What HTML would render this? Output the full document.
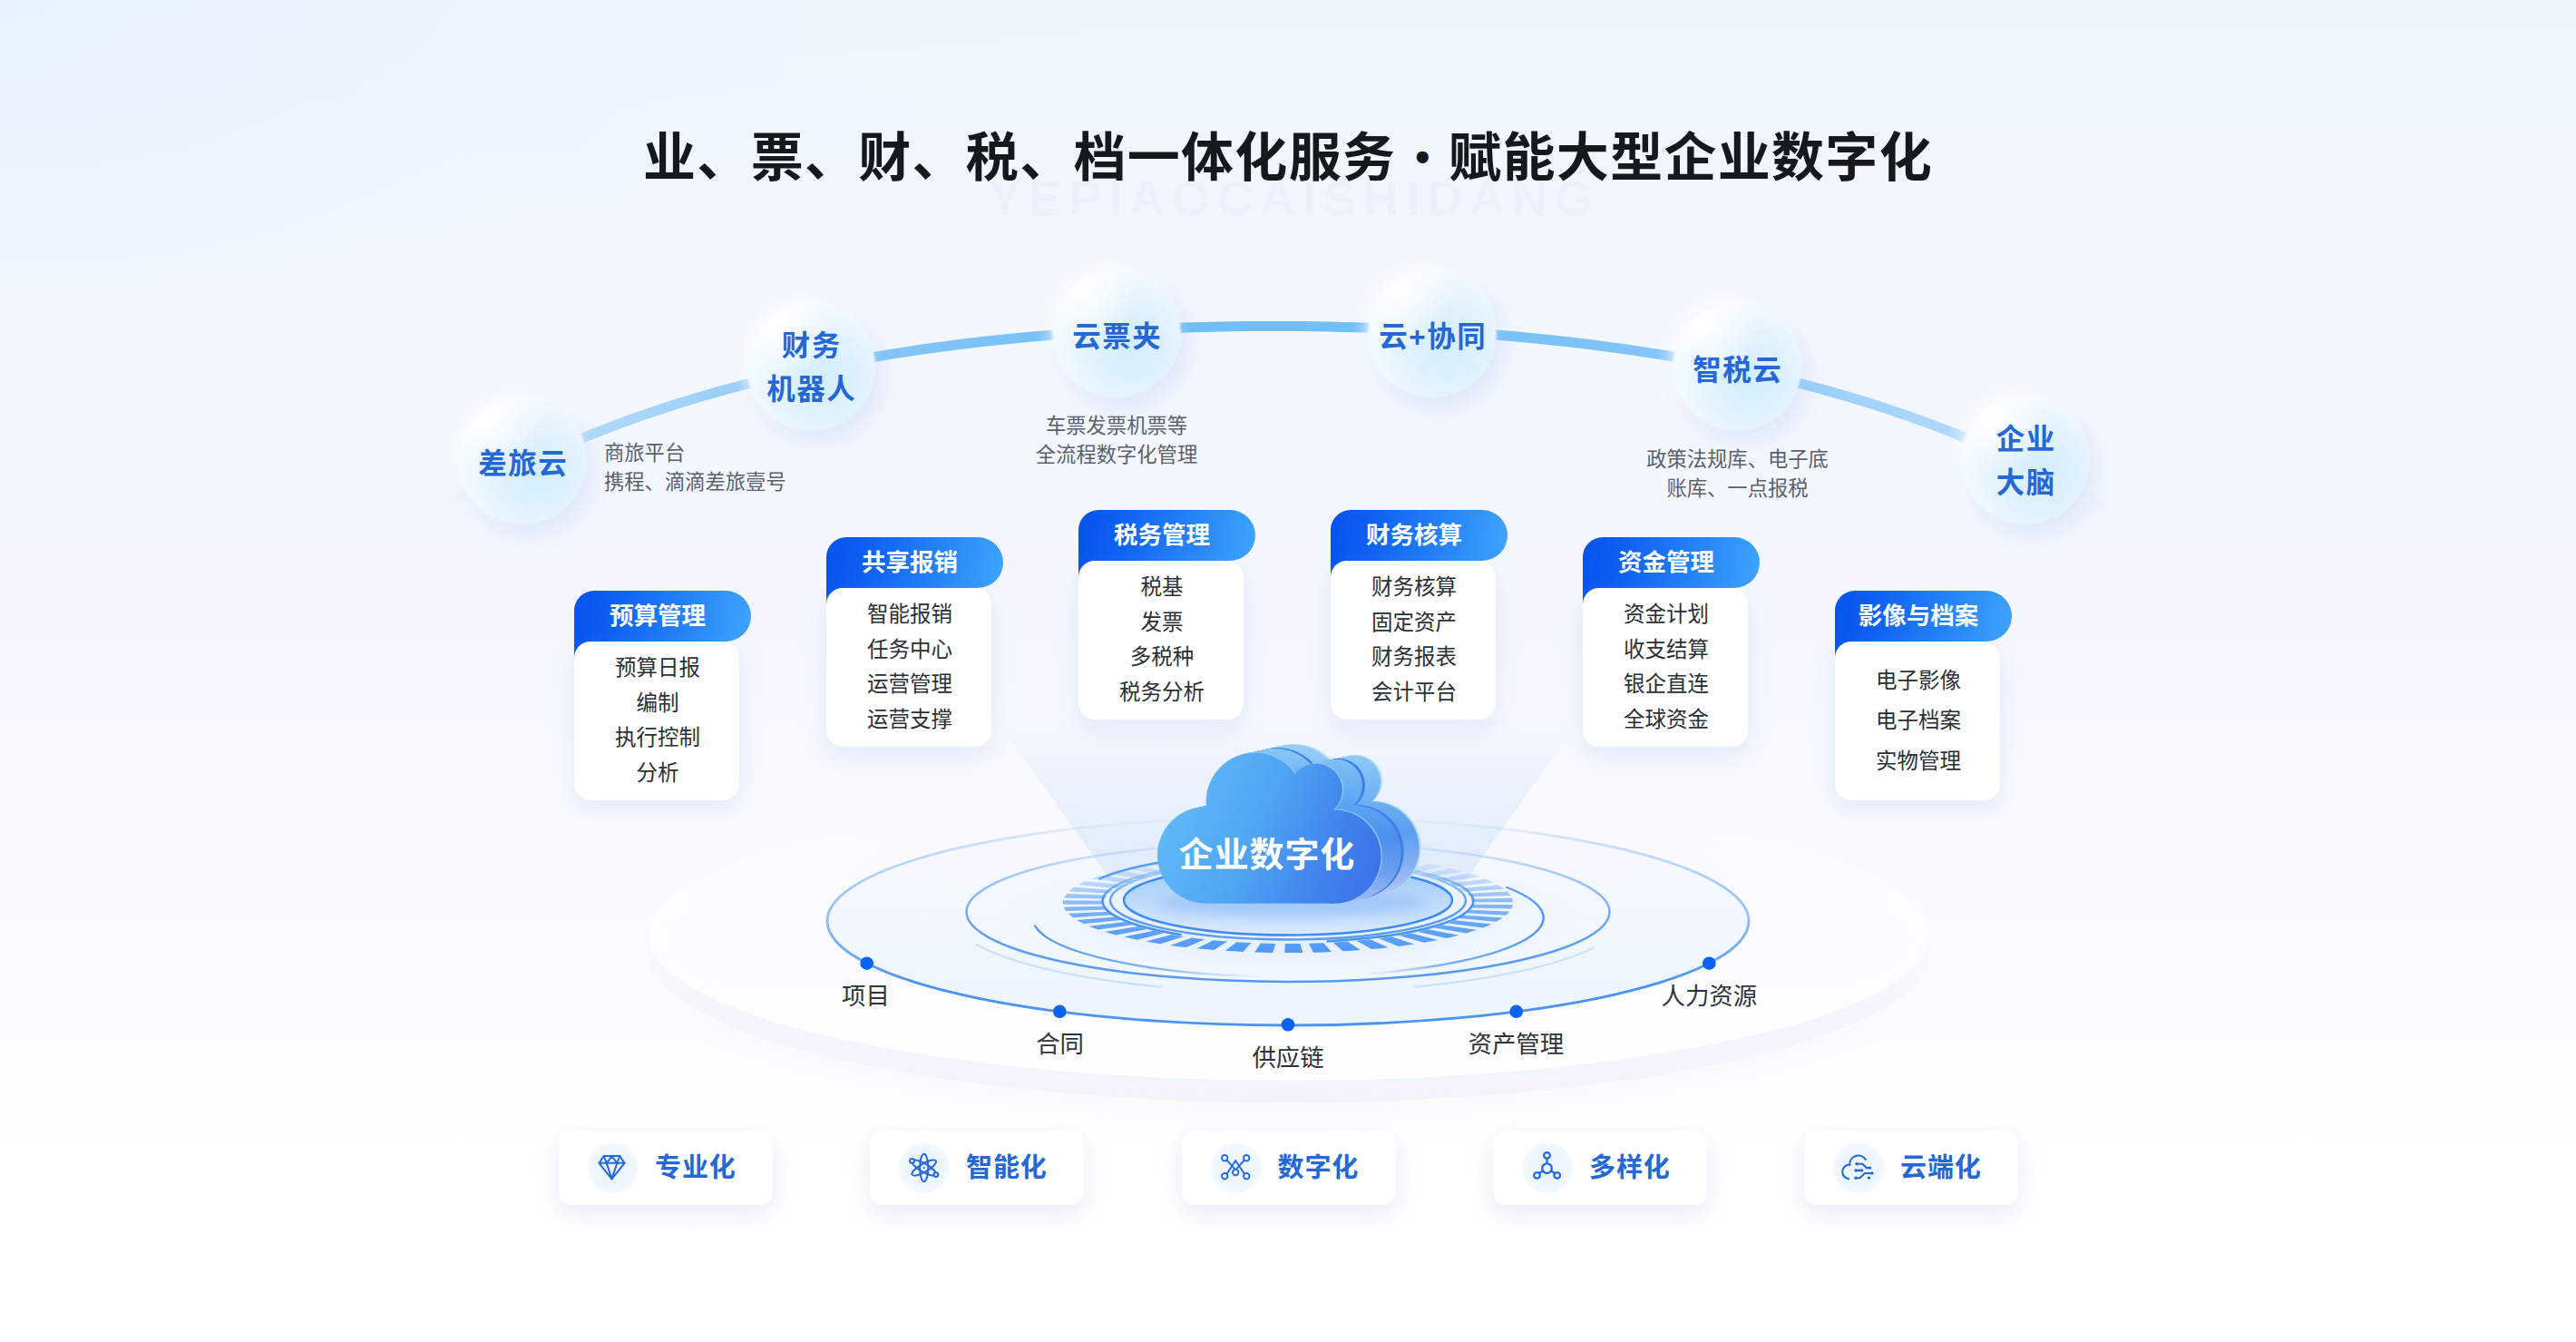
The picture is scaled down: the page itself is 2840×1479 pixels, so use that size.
<!DOCTYPE html>
<html lang="zh-CN">
<head>
<meta charset="utf-8">
<title>业、票、财、税、档一体化服务</title>
<style>
*{box-sizing:border-box;margin:0;padding:0}
html,body{width:2840px;height:1479px;overflow:hidden;background:#fdfdff}
body{font-family:"Liberation Sans","Noto Sans CJK SC",sans-serif;color:#2b2f36}
#stage{position:relative;width:2840px;height:1479px;overflow:hidden;
 background:
  radial-gradient(ellipse 1200px 600px at 0% 0%,rgba(230,241,253,.8) 0%,rgba(236,244,254,.4) 55%,rgba(242,247,254,0) 100%),
  linear-gradient(180deg,#eef5fd 0px,#f0f6fe 120px,#f3f7fe 300px,#f4f7fe 700px,#f8faff 900px,#fcfcff 1100px,#fefeff 1260px,#ffffff 1479px);}
.abs{position:absolute}
/* title */
.wm{position:absolute;left:0;width:2840px;top:190px;line-height:56px;text-align:center;font-size:54px;font-weight:700;letter-spacing:8px;padding-left:14px;color:#e9edf9;opacity:.5;font-family:"Liberation Sans",sans-serif}
h1.title{position:absolute;left:0;width:2840px;top:130px;height:88px;line-height:88px;text-align:center;font-size:58px;font-weight:700;color:#15181d;white-space:nowrap;letter-spacing:1.3px}
h1.title .dot{display:inline-block;width:58px;text-align:center;font-size:46px;letter-spacing:0;vertical-align:top;position:relative;top:-1px;font-family:"Liberation Sans",sans-serif}
/* bubbles */
.bubble{position:absolute;width:140px;height:140px;border-radius:50%;
 background:radial-gradient(circle 62px at 24% 16%,rgba(255,255,255,.92) 0%,rgba(255,255,255,0) 100%),radial-gradient(circle 86px at 62% 60%,#d5edfc 0%,#ddf1fd 42%,#e9f6fe 74%,#f3fbff 100%);
 box-shadow:8px 12px 26px rgba(150,185,240,.24),0 0 0 1.5px rgba(255,255,255,.55),-5px -5px 16px rgba(255,255,255,.8);
 display:flex;align-items:center;justify-content:center;text-align:center;padding-top:9px;padding-left:1.6px;
 font-size:31.5px;font-weight:700;color:#2568d5;line-height:47.4px;white-space:nowrap;letter-spacing:1.6px}
.bubble.two{padding-top:3px}
.note{position:absolute;font-size:22.3px;line-height:32.4px;color:#5a616d;white-space:nowrap}
.note.c{text-align:center;transform:translateX(-50%)}
/* cards */
.card{position:absolute;width:184px}
.card .hd{position:relative;width:195px;height:56px;color:#fff;font-size:26.5px;font-weight:700;line-height:57px;text-align:center;padding-right:11px;white-space:nowrap}
.card .hd:before{content:"";position:absolute;left:0;top:0;width:195px;height:84px;background:linear-gradient(97deg,#0553ef 0%,#0d60f2 22%,#2280f7 58%,#3fa6fc 100%);clip-path:path("M0 22 A22 22 0 0 1 22 0 H167 A28 28 0 0 1 167 56 H24 V84 H0 Z");filter:none}
.card .hd span{position:relative;z-index:2}
.card .bd{position:relative;z-index:3;width:181.5px;padding-left:2.5px;height:175px;border-radius:18px;background:#fff;box-shadow:0 10px 26px rgba(150,180,235,.21);text-align:center;font-size:23.5px;line-height:38.6px;padding-top:10px;color:#2b2f36}
.card .bd.three{line-height:44.8px;padding-top:20.5px}
/* ring labels */
.rl{position:absolute;font-size:26.4px;line-height:34px;margin-top:1px;color:#2f333a;white-space:nowrap;transform:translate(-50%,-50%)}
/* tags */
.tag{position:absolute;top:1246px;width:236px;height:82px;border-radius:14px;background:#fff;box-shadow:0 10px 24px rgba(170,190,235,.26)}
.tag .ic{position:absolute;left:32px;top:13px;width:56px;height:56px;border-radius:50%;background:radial-gradient(circle at 50% 50%,#ebf4fe 0%,#eef6fe 55%,rgba(244,249,255,.6) 80%,rgba(255,255,255,0) 100%)}
.tag .ic svg{position:absolute;left:1px;top:1px;width:54px;height:54px}
.tag .tx{position:absolute;left:106px;top:0;height:82px;line-height:83px;font-size:29px;font-weight:700;color:#2468d6;white-space:nowrap;letter-spacing:.9px}
svg{display:block}
</style>
</head>
<body>
<div id="stage">
<!--BG-->
<!--PLATFORM_START-->
<svg class="abs" style="left:0;top:0" width="2840" height="1479" viewBox="0 0 2840 1479">
<defs>
<filter id="bl20" x="-20%" y="-50%" width="140%" height="200%"><feGaussianBlur stdDeviation="16"/></filter>
<filter id="bl6" x="-20%" y="-50%" width="140%" height="200%"><feGaussianBlur stdDeviation="6"/></filter>
<linearGradient id="discTop" x1="0" y1="870" x2="0" y2="1191" gradientUnits="userSpaceOnUse">
 <stop offset="0" stop-color="#fdfdff" stop-opacity="0"/><stop offset=".35" stop-color="#fdfdff" stop-opacity=".75"/><stop offset="1" stop-color="#fefeff" stop-opacity="1"/></linearGradient>
<linearGradient id="discSide" x1="0" y1="1000" x2="0" y2="1216" gradientUnits="userSpaceOnUse">
 <stop offset="0" stop-color="#f3f5fd" stop-opacity="0"/><stop offset=".5" stop-color="#f3f5fd" stop-opacity=".7"/><stop offset="1" stop-color="#f1f4fc" stop-opacity="1"/></linearGradient>
<linearGradient id="ringFade" x1="0" y1="900" x2="0" y2="1130" gradientUnits="userSpaceOnUse">
 <stop offset="0" stop-color="#fff" stop-opacity="0"/><stop offset=".12" stop-color="#fff" stop-opacity=".25"/><stop offset=".5" stop-color="#fff" stop-opacity=".6"/><stop offset=".8" stop-color="#fff" stop-opacity="1"/><stop offset="1" stop-color="#fff" stop-opacity="1"/></linearGradient>
<mask id="mRing" maskUnits="userSpaceOnUse" x="800" y="850" width="1240" height="320"><rect x="800" y="850" width="1240" height="320" fill="url(#ringFade)"/></mask>
<linearGradient id="ring2Fade" x1="0" y1="925" x2="0" y2="1085" gradientUnits="userSpaceOnUse">
 <stop offset="0" stop-color="#fff" stop-opacity="0"/><stop offset=".2" stop-color="#fff" stop-opacity=".45"/><stop offset=".6" stop-color="#fff" stop-opacity=".9"/><stop offset="1" stop-color="#fff" stop-opacity="1"/></linearGradient>
<mask id="mRing2" maskUnits="userSpaceOnUse" x="1000" y="900" width="840" height="220"><rect x="1000" y="900" width="840" height="220" fill="url(#ring2Fade)"/></mask>
<linearGradient id="dashFade" x1="0" y1="940" x2="0" y2="1052" gradientUnits="userSpaceOnUse">
 <stop offset="0" stop-color="#fff" stop-opacity="0"/><stop offset=".28" stop-color="#fff" stop-opacity=".3"/><stop offset=".48" stop-color="#fff" stop-opacity=".62"/><stop offset=".7" stop-color="#fff" stop-opacity=".85"/><stop offset="1" stop-color="#fff" stop-opacity="1"/></linearGradient>
<linearGradient id="thinFade" x1="0" y1="945" x2="0" y2="1040" gradientUnits="userSpaceOnUse"><stop offset="0" stop-color="#fff" stop-opacity="0"/><stop offset=".3" stop-color="#fff" stop-opacity=".6"/><stop offset=".5" stop-color="#fff" stop-opacity="1"/><stop offset="1" stop-color="#fff" stop-opacity="1"/></linearGradient>
<mask id="mThin" maskUnits="userSpaceOnUse" x="1100" y="900" width="640" height="200"><rect x="1100" y="900" width="640" height="200" fill="url(#thinFade)"/></mask>
<mask id="mDash" maskUnits="userSpaceOnUse" x="1100" y="900" width="640" height="200"><rect x="1100" y="900" width="640" height="200" fill="url(#dashFade)"/></mask>
<linearGradient id="beam" x1="0" y1="790" x2="0" y2="985" gradientUnits="userSpaceOnUse">
 <stop offset="0" stop-color="#d6e4f9" stop-opacity="0"/><stop offset=".3" stop-color="#d6e4f9" stop-opacity=".28"/><stop offset=".7" stop-color="#d3e3f9" stop-opacity=".5"/><stop offset="1" stop-color="#cfe0f9" stop-opacity=".6"/></linearGradient>
<linearGradient id="innerFill" x1="0" y1="955" x2="0" y2="1032" gradientUnits="userSpaceOnUse">
 <stop offset="0" stop-color="#9fcbfa"/><stop offset=".5" stop-color="#bddbfc"/><stop offset="1" stop-color="#dcebfe"/></linearGradient>
<radialGradient id="glow" cx="1420" cy="1010" r="330" gradientUnits="userSpaceOnUse" gradientTransform="translate(0 790) scale(1 .218)">
 <stop offset="0" stop-color="#d5e8fd" stop-opacity=".9"/><stop offset=".6" stop-color="#e3effd" stop-opacity=".6"/><stop offset="1" stop-color="#eef5fe" stop-opacity="0"/></radialGradient>
<linearGradient id="cloudFront" x1="1290" y1="880" x2="1520" y2="975" gradientUnits="userSpaceOnUse">
 <stop offset="0" stop-color="#5fbaf7"/><stop offset=".4" stop-color="#4fa5f3"/><stop offset=".75" stop-color="#4083ec"/><stop offset="1" stop-color="#3b72e8"/></linearGradient>
</defs>
<ellipse cx="1421" cy="1066" rx="680" ry="158" fill="#e4eafa" opacity=".22" filter="url(#bl20)"/>
<ellipse cx="1421" cy="1050" rx="707" ry="165" fill="url(#discSide)"/>
<ellipse cx="1421" cy="1030" rx="707" ry="161" fill="url(#discTop)"/>
<ellipse cx="1420" cy="1015" rx="508" ry="115" fill="#e4f1fe" opacity=".62" mask="url(#mRing)"/>
<ellipse cx="1420" cy="1005" rx="354.5" ry="77" fill="#f3f8ff" opacity=".8" mask="url(#mRing2)"/>
<polygon points="1096,790 1744,790 1612,976 1233,982" fill="url(#beam)"/>
<ellipse cx="1420" cy="1010" rx="330" ry="72" fill="url(#glow)"/>
<ellipse cx="1420" cy="1015" rx="508" ry="115" fill="none" stroke="#4a93f1" stroke-width="2.8" mask="url(#mRing)"/>
<ellipse cx="1420" cy="1005" rx="354.5" ry="77" fill="none" stroke="#5598f3" stroke-width="2.5" mask="url(#mRing2)"/>
<defs><linearGradient id="arcL" x1="1140" y1="0" x2="1400" y2="0" gradientUnits="userSpaceOnUse"><stop offset="0" stop-color="#4f95f3"/><stop offset=".55" stop-color="#6aa6f5" stop-opacity=".8"/><stop offset="1" stop-color="#9cc3f7" stop-opacity="0"/></linearGradient><linearGradient id="arcR" x1="1702" y1="0" x2="1500" y2="0" gradientUnits="userSpaceOnUse"><stop offset="0" stop-color="#4f95f3"/><stop offset=".6" stop-color="#6aa6f5" stop-opacity=".8"/><stop offset="1" stop-color="#9cc3f7" stop-opacity="0"/></linearGradient></defs>
<path d="M1141.1 1020.5 A281.6 65 0 0 0 1395.5 1076.3" fill="none" stroke="url(#arcL)" stroke-width="2.4" stroke-linecap="round"/>
<path d="M1661.4 978.0 A281.6 65 0 0 1 1507.0 1073.3" fill="none" stroke="url(#arcR)" stroke-width="2.4" stroke-linecap="round"/>
<path d="M1075.1 1040.2 A372 86 0 0 0 1280.6 1087.7" fill="none" stroke="#9cc3f7" stroke-width="2" opacity=".45"/>
<path d="M1757.1 1044.3 A372 86 0 0 1 1559.4 1087.7" fill="none" stroke="#9cc3f7" stroke-width="2" opacity=".45"/>
<g mask="url(#mDash)"><g transform="translate(1420 995) scale(1 .2218)"><circle r="225.5" fill="none" stroke="#4f97f5" stroke-width="45" stroke-dasharray="18.4 11.76" transform="rotate(86.2)"/></g></g>
<path d="M1522.2 953.7 A204.5 45.4 0 0 1 1462.5 1037.4" fill="none" stroke="#4a93f3" stroke-width="2.5" mask="url(#mThin)"/>
<path d="M1317.8 953.7 A204.5 45.4 0 0 0 1302.7 1030.2" fill="none" stroke="#4a93f3" stroke-width="2.5" mask="url(#mThin)"/>
<ellipse cx="1420" cy="992.5" rx="196" ry="43" fill="none" stroke="#4a93f3" stroke-width="2.4" opacity=".9" mask="url(#mThin)"/>
<ellipse cx="1420" cy="992" rx="181" ry="38.5" fill="url(#innerFill)" stroke="#3d8af2" stroke-width="2.4"/>
<path d="M1211.5 968.9 A230 50 0 0 1 1288.1 949.0" fill="none" stroke="#5a9cf3" stroke-width="2.4"/>
<circle cx="955.7" cy="1061.7" r="7.3" fill="#0a62f0"/>
<circle cx="1168.3" cy="1114.8" r="7.3" fill="#0a62f0"/>
<circle cx="1420" cy="1129.3" r="7.3" fill="#0a62f0"/>
<circle cx="1671.7" cy="1114.8" r="7.3" fill="#0a62f0"/>
<circle cx="1884.3" cy="1061.7" r="7.3" fill="#0a62f0"/>
<defs>
<linearGradient id="side1" x1="0" y1="815" x2="0" y2="992" gradientUnits="userSpaceOnUse"><stop offset="0" stop-color="#8fccf9"/><stop offset=".3" stop-color="#66aff4"/><stop offset=".62" stop-color="#4b8fec"/><stop offset=".82" stop-color="#6b9fef"/><stop offset="1" stop-color="#a3b9f3"/></linearGradient>
<linearGradient id="side2" x1="0" y1="810" x2="0" y2="985" gradientUnits="userSpaceOnUse"><stop offset="0" stop-color="#a0d4fb"/><stop offset=".3" stop-color="#78bbf6"/><stop offset=".62" stop-color="#5c9df0"/><stop offset=".82" stop-color="#86b0f3"/><stop offset="1" stop-color="#b6c6f6"/></linearGradient>
<filter id="cs" x="-20%" y="-20%" width="140%" height="160%"><feGaussianBlur stdDeviation="7"/></filter>
</defs>
<ellipse cx="1425" cy="996" rx="150" ry="16" fill="#6ea6ee" opacity=".35" filter="url(#cs)"/>
<g fill="#b4dcfc"><circle cx="1373.0" cy="933.0" r="53"/><circle cx="1515.0" cy="934.5" r="51.6"/><rect x="1373.0" y="885.5" width="142" height="100.6"/><circle cx="1427.6" cy="874.2" r="54"/><circle cx="1495.0" cy="861.0" r="29"/></g>
<g fill="#b4dcfc"><circle cx="1372.0" cy="933.2" r="53"/><circle cx="1514.0" cy="934.7" r="51.6"/><rect x="1372.0" y="885.7" width="142" height="100.6"/><circle cx="1426.6" cy="874.4" r="54"/><circle cx="1494.0" cy="861.2" r="29"/></g>
<g fill="url(#side2)"><circle cx="1371.0" cy="933.4" r="53"/><circle cx="1513.0" cy="934.9" r="51.6"/><rect x="1371.0" y="885.9" width="142" height="100.6"/><circle cx="1425.6" cy="874.6" r="54"/><circle cx="1493.0" cy="861.4" r="29"/></g>
<g fill="url(#side2)"><circle cx="1370.0" cy="933.6" r="53"/><circle cx="1512.0" cy="935.1" r="51.6"/><rect x="1370.0" y="886.1" width="142" height="100.6"/><circle cx="1424.6" cy="874.8" r="54"/><circle cx="1492.0" cy="861.6" r="29"/></g>
<g fill="url(#side2)"><circle cx="1369.0" cy="933.9" r="53"/><circle cx="1511.0" cy="935.4" r="51.6"/><rect x="1369.0" y="886.4" width="142" height="100.6"/><circle cx="1423.6" cy="875.1" r="54"/><circle cx="1491.0" cy="861.9" r="29"/></g>
<g fill="url(#side2)"><circle cx="1368.0" cy="934.1" r="53"/><circle cx="1510.0" cy="935.6" r="51.6"/><rect x="1368.0" y="886.6" width="142" height="100.6"/><circle cx="1422.6" cy="875.3" r="54"/><circle cx="1490.0" cy="862.1" r="29"/></g>
<g fill="url(#side2)"><circle cx="1367.0" cy="934.3" r="53"/><circle cx="1509.0" cy="935.8" r="51.6"/><rect x="1367.0" y="886.8" width="142" height="100.6"/><circle cx="1421.6" cy="875.5" r="54"/><circle cx="1489.0" cy="862.3" r="29"/></g>
<g fill="url(#side2)"><circle cx="1366.0" cy="934.5" r="53"/><circle cx="1508.0" cy="936.0" r="51.6"/><rect x="1366.0" y="887.0" width="142" height="100.6"/><circle cx="1420.6" cy="875.7" r="54"/><circle cx="1488.0" cy="862.5" r="29"/></g>
<g fill="url(#side2)"><circle cx="1365.0" cy="934.7" r="53"/><circle cx="1507.0" cy="936.2" r="51.6"/><rect x="1365.0" y="887.2" width="142" height="100.6"/><circle cx="1419.6" cy="875.9" r="54"/><circle cx="1487.0" cy="862.7" r="29"/></g>
<g fill="url(#side2)"><circle cx="1364.0" cy="934.9" r="53"/><circle cx="1506.0" cy="936.4" r="51.6"/><rect x="1364.0" y="887.4" width="142" height="100.6"/><circle cx="1418.6" cy="876.1" r="54"/><circle cx="1486.0" cy="862.9" r="29"/></g>
<g fill="url(#side2)"><circle cx="1363.0" cy="935.2" r="53"/><circle cx="1505.0" cy="936.7" r="51.6"/><rect x="1363.0" y="887.7" width="142" height="100.6"/><circle cx="1417.6" cy="876.4" r="54"/><circle cx="1485.0" cy="863.2" r="29"/></g>
<g fill="url(#side2)"><circle cx="1362.0" cy="935.4" r="53"/><circle cx="1504.0" cy="936.9" r="51.6"/><rect x="1362.0" y="887.9" width="142" height="100.6"/><circle cx="1416.6" cy="876.6" r="54"/><circle cx="1484.0" cy="863.4" r="29"/></g>
<g fill="url(#side2)"><circle cx="1361.0" cy="935.6" r="53"/><circle cx="1503.0" cy="937.1" r="51.6"/><rect x="1361.0" y="888.1" width="142" height="100.6"/><circle cx="1415.6" cy="876.8" r="54"/><circle cx="1483.0" cy="863.6" r="29"/></g>
<g fill="url(#side2)"><circle cx="1360.0" cy="935.8" r="53"/><circle cx="1502.0" cy="937.3" r="51.6"/><rect x="1360.0" y="888.3" width="142" height="100.6"/><circle cx="1414.6" cy="877.0" r="54"/><circle cx="1482.0" cy="863.8" r="29"/></g>
<g fill="url(#side2)"><circle cx="1359.0" cy="936.0" r="53"/><circle cx="1501.0" cy="937.5" r="51.6"/><rect x="1359.0" y="888.5" width="142" height="100.6"/><circle cx="1413.6" cy="877.2" r="54"/><circle cx="1481.0" cy="864.0" r="29"/></g>
<g fill="url(#side2)"><circle cx="1358.0" cy="936.2" r="53"/><circle cx="1500.0" cy="937.7" r="51.6"/><rect x="1358.0" y="888.7" width="142" height="100.6"/><circle cx="1412.6" cy="877.4" r="54"/><circle cx="1480.0" cy="864.2" r="29"/></g>
<g fill="url(#side2)"><circle cx="1357.0" cy="936.5" r="53"/><circle cx="1499.0" cy="938.0" r="51.6"/><rect x="1357.0" y="889.0" width="142" height="100.6"/><circle cx="1411.6" cy="877.7" r="54"/><circle cx="1479.0" cy="864.5" r="29"/></g>
<g fill="url(#side2)"><circle cx="1356.0" cy="936.7" r="53"/><circle cx="1498.0" cy="938.2" r="51.6"/><rect x="1356.0" y="889.2" width="142" height="100.6"/><circle cx="1410.6" cy="877.9" r="54"/><circle cx="1478.0" cy="864.7" r="29"/></g>
<g fill="url(#side2)"><circle cx="1355.0" cy="936.9" r="53"/><circle cx="1497.0" cy="938.4" r="51.6"/><rect x="1355.0" y="889.4" width="142" height="100.6"/><circle cx="1409.6" cy="878.1" r="54"/><circle cx="1477.0" cy="864.9" r="29"/></g>
<g fill="#3d7fe6"><circle cx="1354.0" cy="937.1" r="53"/><circle cx="1496.0" cy="938.6" r="51.6"/><rect x="1354.0" y="889.6" width="142" height="100.6"/><circle cx="1408.6" cy="878.3" r="54"/><circle cx="1476.0" cy="865.1" r="29"/></g>
<g fill="#3d7fe6"><circle cx="1353.0" cy="937.3" r="53"/><circle cx="1495.0" cy="938.8" r="51.6"/><rect x="1353.0" y="889.8" width="142" height="100.6"/><circle cx="1407.6" cy="878.5" r="54"/><circle cx="1475.0" cy="865.3" r="29"/></g>
<g fill="#3d7fe6"><circle cx="1352.0" cy="937.5" r="53"/><circle cx="1494.0" cy="939.0" r="51.6"/><rect x="1352.0" y="890.0" width="142" height="100.6"/><circle cx="1406.6" cy="878.7" r="54"/><circle cx="1474.0" cy="865.5" r="29"/></g>
<g fill="url(#side1)"><circle cx="1351.0" cy="937.8" r="53"/><circle cx="1493.0" cy="939.2" r="51.6"/><rect x="1351.0" y="890.2" width="142" height="100.6"/><circle cx="1405.6" cy="879.0" r="54"/><circle cx="1473.0" cy="865.8" r="29"/></g>
<g fill="url(#side1)"><circle cx="1350.0" cy="938.0" r="53"/><circle cx="1492.0" cy="939.5" r="51.6"/><rect x="1350.0" y="890.5" width="142" height="100.6"/><circle cx="1404.6" cy="879.2" r="54"/><circle cx="1472.0" cy="866.0" r="29"/></g>
<g fill="url(#side1)"><circle cx="1349.0" cy="938.2" r="53"/><circle cx="1491.0" cy="939.7" r="51.6"/><rect x="1349.0" y="890.7" width="142" height="100.6"/><circle cx="1403.6" cy="879.4" r="54"/><circle cx="1471.0" cy="866.2" r="29"/></g>
<g fill="url(#side1)"><circle cx="1348.0" cy="938.4" r="53"/><circle cx="1490.0" cy="939.9" r="51.6"/><rect x="1348.0" y="890.9" width="142" height="100.6"/><circle cx="1402.6" cy="879.6" r="54"/><circle cx="1470.0" cy="866.4" r="29"/></g>
<g fill="url(#side1)"><circle cx="1347.0" cy="938.6" r="53"/><circle cx="1489.0" cy="940.1" r="51.6"/><rect x="1347.0" y="891.1" width="142" height="100.6"/><circle cx="1401.6" cy="879.8" r="54"/><circle cx="1469.0" cy="866.6" r="29"/></g>
<g fill="url(#side1)"><circle cx="1346.0" cy="938.8" r="53"/><circle cx="1488.0" cy="940.3" r="51.6"/><rect x="1346.0" y="891.3" width="142" height="100.6"/><circle cx="1400.6" cy="880.0" r="54"/><circle cx="1468.0" cy="866.8" r="29"/></g>
<g fill="url(#side1)"><circle cx="1345.0" cy="939.0" r="53"/><circle cx="1487.0" cy="940.5" r="51.6"/><rect x="1345.0" y="891.5" width="142" height="100.6"/><circle cx="1399.6" cy="880.2" r="54"/><circle cx="1467.0" cy="867.0" r="29"/></g>
<g fill="url(#side1)"><circle cx="1344.0" cy="939.3" r="53"/><circle cx="1486.0" cy="940.8" r="51.6"/><rect x="1344.0" y="891.8" width="142" height="100.6"/><circle cx="1398.6" cy="880.5" r="54"/><circle cx="1466.0" cy="867.3" r="29"/></g>
<g fill="url(#side1)"><circle cx="1343.0" cy="939.5" r="53"/><circle cx="1485.0" cy="941.0" r="51.6"/><rect x="1343.0" y="892.0" width="142" height="100.6"/><circle cx="1397.6" cy="880.7" r="54"/><circle cx="1465.0" cy="867.5" r="29"/></g>
<g fill="url(#side1)"><circle cx="1342.0" cy="939.7" r="53"/><circle cx="1484.0" cy="941.2" r="51.6"/><rect x="1342.0" y="892.2" width="142" height="100.6"/><circle cx="1396.6" cy="880.9" r="54"/><circle cx="1464.0" cy="867.7" r="29"/></g>
<g fill="url(#side1)"><circle cx="1341.0" cy="939.9" r="53"/><circle cx="1483.0" cy="941.4" r="51.6"/><rect x="1341.0" y="892.4" width="142" height="100.6"/><circle cx="1395.6" cy="881.1" r="54"/><circle cx="1463.0" cy="867.9" r="29"/></g>
<g fill="url(#side1)"><circle cx="1340.0" cy="940.1" r="53"/><circle cx="1482.0" cy="941.6" r="51.6"/><rect x="1340.0" y="892.6" width="142" height="100.6"/><circle cx="1394.6" cy="881.3" r="54"/><circle cx="1462.0" cy="868.1" r="29"/></g>
<g fill="url(#side1)"><circle cx="1339.0" cy="940.3" r="53"/><circle cx="1481.0" cy="941.8" r="51.6"/><rect x="1339.0" y="892.8" width="142" height="100.6"/><circle cx="1393.6" cy="881.5" r="54"/><circle cx="1461.0" cy="868.3" r="29"/></g>
<g fill="url(#side1)"><circle cx="1338.0" cy="940.6" r="53"/><circle cx="1480.0" cy="942.1" r="51.6"/><rect x="1338.0" y="893.1" width="142" height="100.6"/><circle cx="1392.6" cy="881.8" r="54"/><circle cx="1460.0" cy="868.6" r="29"/></g>
<g fill="url(#side1)"><circle cx="1337.0" cy="940.8" r="53"/><circle cx="1479.0" cy="942.3" r="51.6"/><rect x="1337.0" y="893.3" width="142" height="100.6"/><circle cx="1391.6" cy="882.0" r="54"/><circle cx="1459.0" cy="868.8" r="29"/></g>
<g fill="url(#side1)"><circle cx="1336.0" cy="941.0" r="53"/><circle cx="1478.0" cy="942.5" r="51.6"/><rect x="1336.0" y="893.5" width="142" height="100.6"/><circle cx="1390.6" cy="882.2" r="54"/><circle cx="1458.0" cy="869.0" r="29"/></g>
<g fill="url(#side1)"><circle cx="1335.0" cy="941.2" r="53"/><circle cx="1477.0" cy="942.7" r="51.6"/><rect x="1335.0" y="893.7" width="142" height="100.6"/><circle cx="1389.6" cy="882.4" r="54"/><circle cx="1457.0" cy="869.2" r="29"/></g>
<g fill="url(#side1)"><circle cx="1334.0" cy="941.4" r="53"/><circle cx="1476.0" cy="942.9" r="51.6"/><rect x="1334.0" y="893.9" width="142" height="100.6"/><circle cx="1388.6" cy="882.6" r="54"/><circle cx="1456.0" cy="869.4" r="29"/></g>
<g fill="url(#side1)"><circle cx="1333.0" cy="941.6" r="53"/><circle cx="1475.0" cy="943.1" r="51.6"/><rect x="1333.0" y="894.1" width="142" height="100.6"/><circle cx="1387.6" cy="882.8" r="54"/><circle cx="1455.0" cy="869.6" r="29"/></g>
<g fill="url(#side1)"><circle cx="1332.0" cy="941.9" r="53"/><circle cx="1474.0" cy="943.4" r="51.6"/><rect x="1332.0" y="894.4" width="142" height="100.6"/><circle cx="1386.6" cy="883.1" r="54"/><circle cx="1454.0" cy="869.9" r="29"/></g>
<g fill="url(#side1)"><circle cx="1331.0" cy="942.1" r="53"/><circle cx="1473.0" cy="943.6" r="51.6"/><rect x="1331.0" y="894.6" width="142" height="100.6"/><circle cx="1385.6" cy="883.3" r="54"/><circle cx="1453.0" cy="870.1" r="29"/></g>
<g fill="url(#side1)"><circle cx="1330.0" cy="942.3" r="53"/><circle cx="1472.0" cy="943.8" r="51.6"/><rect x="1330.0" y="894.8" width="142" height="100.6"/><circle cx="1384.6" cy="883.5" r="54"/><circle cx="1452.0" cy="870.3" r="29"/></g>
<g fill="#93cbf9"><circle cx="1330.3" cy="941.9" r="53"/><circle cx="1472.3" cy="943.4" r="51.6"/><rect x="1330.3" y="894.4" width="142" height="100.6"/><circle cx="1384.9" cy="883.1" r="54"/><circle cx="1452.3" cy="869.9" r="29"/></g>
<g fill="url(#cloudFront)"><circle cx="1329.0" cy="942.5" r="53"/><circle cx="1471.0" cy="944.0" r="51.6"/><rect x="1329.0" y="895.0" width="142" height="100.6"/><circle cx="1383.6" cy="883.7" r="54"/><circle cx="1451.0" cy="870.5" r="29"/></g>
<text x="1397" y="954.6" text-anchor="middle" font-family="'Liberation Sans','Noto Sans CJK SC',sans-serif" font-size="38" font-weight="700" letter-spacing=".9" fill="#fff">企业数字化</text>
</svg>
<!--PLATFORM_END-->
<!--ARC_START-->
<svg class="abs" style="left:0;top:0" width="2840" height="1479" viewBox="0 0 2840 1479">
<defs><linearGradient id="arcG" x1="460" y1="0" x2="2350" y2="0" gradientUnits="userSpaceOnUse">
<stop offset="0" stop-color="#b4dafb" stop-opacity="0"/><stop offset=".03" stop-color="#b4dafb" stop-opacity=".08"/><stop offset=".06" stop-color="#b4dafb" stop-opacity=".4"/><stop offset=".1" stop-color="#a5d4fa" stop-opacity=".85"/><stop offset=".25" stop-color="#86c6f8"/><stop offset=".42" stop-color="#70bff8"/><stop offset=".58" stop-color="#70bff8"/><stop offset=".75" stop-color="#86c6f8"/><stop offset=".9" stop-color="#a5d4fa" stop-opacity=".85"/><stop offset=".94" stop-color="#b4dafb" stop-opacity=".4"/><stop offset=".97" stop-color="#b4dafb" stop-opacity=".08"/><stop offset="1" stop-color="#b4dafb" stop-opacity="0"/></linearGradient></defs>
<path d="M460 576.1 L475 566.9 L490 558.0 L505 549.3 L520 541.0 L535 533.0 L550 525.2 L565 517.7 L580 510.4 L595 503.4 L610 496.6 L625 490.1 L640 483.8 L655 477.7 L670 471.8 L685 466.2 L700 460.7 L715 455.5 L730 450.5 L745 445.6 L760 440.9 L775 436.5 L790 432.1 L805 428.0 L820 424.0 L835 420.2 L850 416.5 L865 413.0 L880 409.7 L895 406.4 L910 403.4 L925 400.4 L940 397.6 L955 394.9 L970 392.3 L985 389.9 L1000 387.6 L1015 385.3 L1030 383.2 L1045 381.2 L1060 379.3 L1075 377.5 L1090 375.8 L1105 374.2 L1120 372.7 L1135 371.3 L1150 370.0 L1165 368.8 L1180 367.6 L1195 366.5 L1210 365.5 L1225 364.6 L1240 363.8 L1255 363.0 L1270 362.4 L1285 361.8 L1300 361.2 L1315 360.8 L1330 360.4 L1345 360.1 L1360 359.8 L1375 359.6 L1390 359.5 L1405 359.5 L1420 359.5 L1435 359.6 L1450 359.8 L1465 360.1 L1480 360.4 L1495 360.8 L1510 361.2 L1525 361.8 L1540 362.4 L1555 363.0 L1570 363.8 L1585 364.6 L1600 365.5 L1615 366.5 L1630 367.6 L1645 368.8 L1660 370.0 L1675 371.3 L1690 372.7 L1705 374.2 L1720 375.8 L1735 377.5 L1750 379.3 L1765 381.2 L1780 383.2 L1795 385.3 L1810 387.6 L1825 389.9 L1840 392.3 L1855 394.9 L1870 397.6 L1885 400.4 L1900 403.4 L1915 406.4 L1930 409.7 L1945 413.0 L1960 416.5 L1975 420.2 L1990 424.0 L2005 428.0 L2020 432.1 L2035 436.5 L2050 440.9 L2065 445.6 L2080 450.5 L2095 455.5 L2110 460.7 L2125 466.2 L2140 471.8 L2155 477.7 L2170 483.8 L2185 490.1 L2200 496.6 L2215 503.4 L2230 510.4 L2245 517.7 L2260 525.2 L2275 533.0 L2290 541.0 L2305 549.3 L2320 558.0 L2335 566.9 L2350 576.1" fill="none" stroke="url(#arcG)" stroke-width="11" stroke-linejoin="round"/>
</svg>
<!--ARC_END-->
<div class="wm">YEPIAOCAISHIDANG</div>
<h1 class="title">业、票、财、税、档一体化服务<span class="dot">•</span>赋能大型企业数字化</h1>
<div class="bubble" style="left:506px;top:437px">差旅云</div>
<div class="bubble two" style="left:824px;top:334px">财务<br>机器人</div>
<div class="bubble" style="left:1161px;top:297px">云票夹</div>
<div class="bubble" style="left:1509px;top:297px">云+协同</div>
<div class="bubble" style="left:1845px;top:334px">智税云</div>
<div class="bubble two" style="left:2163px;top:437px">企业<br>大脑</div>
<div class="note" style="left:666px;top:484px">商旅平台<br>携程、滴滴差旅壹号</div>
<div class="note c" style="left:1231px;top:454px">车票发票机票等<br>全流程数字化管理</div>
<div class="note c" style="left:1915.5px;top:491px">政策法规库、电子底<br>账库、一点报税</div>
<div class="card" style="left:633px;top:651px"><div class="hd"><span>预算管理</span></div><div class="bd"><div>预算日报</div><div>编制</div><div>执行控制</div><div>分析</div></div></div>
<div class="card" style="left:911px;top:592px"><div class="hd"><span>共享报销</span></div><div class="bd"><div>智能报销</div><div>任务中心</div><div>运营管理</div><div>运营支撑</div></div></div>
<div class="card" style="left:1189px;top:562px"><div class="hd"><span>税务管理</span></div><div class="bd"><div>税基</div><div>发票</div><div>多税种</div><div>税务分析</div></div></div>
<div class="card" style="left:1467px;top:562px"><div class="hd"><span>财务核算</span></div><div class="bd"><div>财务核算</div><div>固定资产</div><div>财务报表</div><div>会计平台</div></div></div>
<div class="card" style="left:1745px;top:592px"><div class="hd"><span>资金管理</span></div><div class="bd"><div>资金计划</div><div>收支结算</div><div>银企直连</div><div>全球资金</div></div></div>
<div class="card" style="left:2023px;top:651px"><div class="hd"><span>影像与档案</span></div><div class="bd three"><div>电子影像</div><div>电子档案</div><div>实物管理</div></div></div>

<div class="rl" style="left:954.5px;top:1096.7px">项目</div>
<div class="rl" style="left:1168.6px;top:1150px">合同</div>
<div class="rl" style="left:1420px;top:1165px">供应链</div>
<div class="rl" style="left:1671.3px;top:1150px">资产管理</div>
<div class="rl" style="left:1884.3px;top:1096.7px">人力资源</div>

<div class="tag" style="left:616px"><div class="ic"><!--I1s--><svg viewBox="-27 -27 54 54" fill="none" stroke="#2468de" stroke-width="2.1" stroke-linecap="round" stroke-linejoin="round"><g transform="translate(-1.5 -.3) scale(.935)"><path d="M-9.4 -13.6 H9.4 L15 -5.2 L0 13.6 L-15 -5.2 Z"/><path d="M-15 -5.2 H15"/><path d="M-9.4 -13.6 L-6.2 -5.2 L0 -13.2 L6.2 -5.2 L9.4 -13.6"/><path d="M-6.2 -5.2 L0 13.6 L6.2 -5.2"/></g></svg><!--I1e--></div><div class="tx">专业化</div></div>
<div class="tag" style="left:959px"><div class="ic"><!--I2s--><svg viewBox="-27 -27 54 54" fill="none" stroke="#2468de" stroke-width="2.0" stroke-linecap="round" stroke-linejoin="round"><g transform="translate(-.3 0)"><ellipse rx="4.6" ry="15.2"/><ellipse rx="4.6" ry="15.2" transform="rotate(60)"/><ellipse rx="4.6" ry="15.2" transform="rotate(-60)"/><circle r="1.1" fill="#2468de" stroke="none"/><circle cx="-13.2" cy="-7.6" r="2.4" fill="#f4f9ff"/><circle cx="13.2" cy="7.6" r="2.4" fill="#f4f9ff"/></g></svg><!--I2e--></div><div class="tx">智能化</div></div>
<div class="tag" style="left:1302.5px"><div class="ic"><!--I3s--><svg viewBox="-27 -27 54 54" fill="none" stroke="#2468de" stroke-width="1.9" stroke-linecap="round" stroke-linejoin="round"><g transform="translate(-.8 -.8)"><path d="M-10 8 L0 -7.3 L10 8"/><path d="M-10 -8 L0 3.2 L10 -8" /><circle cx="-12" cy="-10" r="3.2" fill="#f2f8ff"/><circle cx="12" cy="-10" r="3.2" fill="#f2f8ff"/><circle cx="-12" cy="10" r="3.2" fill="#f2f8ff"/><circle cx="12" cy="10" r="3.2" fill="#f2f8ff"/><circle cx="0" cy="5.8" r="3.2" fill="#f2f8ff"/></g></svg><!--I3e--></div><div class="tx">数字化</div></div>
<div class="tag" style="left:1646px"><div class="ic"><!--I4s--><svg viewBox="-27 -27 54 54" fill="none" stroke="#2468de" stroke-width="2.3" stroke-linecap="round" stroke-linejoin="round"><g transform="translate(-.5 .6)"><path d="M0 -5.2 V-11"/><path d="M-4.5 2.6 L-8.4 5.6"/><path d="M4.5 2.6 L8.4 5.6"/><circle r="5.3" fill="#f2f8ff"/><circle cx="0" cy="-14.2" r="3.3" fill="#f2f8ff"/><circle cx="-11" cy="7.8" r="3.3" fill="#f2f8ff"/><circle cx="11.2" cy="7.8" r="3.3" fill="#f2f8ff"/></g></svg><!--I4e--></div><div class="tx">多样化</div></div>
<div class="tag" style="left:1989px"><div class="ic"><!--I5s--><svg viewBox="-27 -27 54 54" fill="none" stroke="#2468de" stroke-width="2.1" stroke-linecap="round" stroke-linejoin="round"><g transform="translate(-.6 -.2)"><path d="M-9.1 -2.8 A9.6 9.6 0 0 1 8.5 -8.9"/><path d="M-9.9 -3.3 A7.9 7.9 0 0 0 -10.3 12.4"/><path d="M-1.3 -4 H4.8 L9.6 .3 H13.1"/><path d="M-2.4 3.1 H4"/><path d="M-2.4 11.5 H2.2 L7.5 6.2 H15.5"/><circle cx="-1.3" cy="-4.0" r="1.7" fill="#2468de" stroke="none"/><circle cx="13.1" cy="0.3" r="1.7" fill="#2468de" stroke="none"/><circle cx="-2.4" cy="3.1" r="1.7" fill="#2468de" stroke="none"/><circle cx="4.0" cy="3.1" r="1.7" fill="#2468de" stroke="none"/><circle cx="-2.4" cy="11.5" r="1.7" fill="#2468de" stroke="none"/><circle cx="15.5" cy="6.2" r="1.7" fill="#2468de" stroke="none"/><circle cx="12.1" cy="11.3" r="1.7" fill="#2468de" stroke="none"/></g></svg><!--I5e--></div><div class="tx">云端化</div></div>

</div>
</body>
</html>
